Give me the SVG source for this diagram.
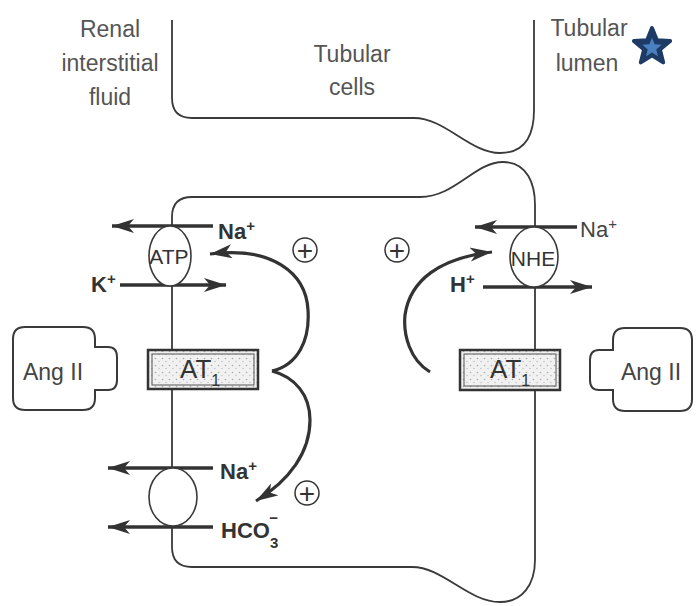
<svg xmlns="http://www.w3.org/2000/svg" width="698" height="606" viewBox="0 0 698 606">
<style>
.outline{fill:none;stroke:#3a3a3a;stroke-width:1.8}
.lbl{font-family:"Liberation Sans",Arial,sans-serif;font-size:23px;fill:#555;text-anchor:middle}
.ion{font-family:"Liberation Sans",Arial,sans-serif;font-size:22px;fill:#333;font-weight:bold}
.ionr{font-family:"Liberation Sans",Arial,sans-serif;font-size:22px;fill:#444}
.arr{fill:none;stroke:#333;stroke-width:3.5;marker-end:url(#ah)}
.curve{fill:none;stroke:#333;stroke-width:3.2}
.pump{fill:#fff;stroke:#3a3a3a;stroke-width:1.6}
.ptxt{font-family:"Liberation Sans",Arial,sans-serif;font-size:21px;fill:#333;text-anchor:middle}
.plus{fill:#fff;stroke:#333;stroke-width:1.5}
.ptext{font-family:"Liberation Sans",Arial,sans-serif;font-size:28px;fill:#333;text-anchor:middle}
.rec{fill:url(#stip);stroke:#333;stroke-width:2.5}
.reci{fill:none;stroke:#555;stroke-width:1}
.attxt{font-family:"Liberation Sans",Arial,sans-serif;font-size:26px;fill:#333}
.ang{fill:#fff;stroke:#3a3a3a;stroke-width:2}
.angt{font-family:"Liberation Sans",Arial,sans-serif;font-size:23px;fill:#444;text-anchor:middle}
</style>
<defs>
<marker id="ah" markerUnits="userSpaceOnUse" markerWidth="24" markerHeight="16" refX="22" refY="7" orient="auto">
<path d="M0,0 L22,7 L0,14 L6,7 Z" fill="#333"/>
</marker>
<pattern id="stip" width="7" height="7" patternUnits="userSpaceOnUse">
<rect width="7" height="7" fill="#f1f1f1"/>
<circle cx="1.5" cy="1.5" r="0.8" fill="#aaa"/>
<circle cx="5" cy="4.5" r="0.7" fill="#bbb"/>
</pattern>
<polygon id="star" points="0,-17 4.4,-6.1 16.2,-5.3 7.1,2.3 10,13.8 0,7.5 -10,13.8 -7.1,2.3 -16.2,-5.3 -4.4,-6.1"/>
</defs>
<rect width="698" height="606" fill="#fff"/>

<g id="labels">
<text class="lbl" x="110" y="37">Renal</text>
<text class="lbl" x="110" y="71">interstitial</text>
<text class="lbl" x="110" y="105">fluid</text>
<text class="lbl" x="352" y="62">Tubular</text>
<text class="lbl" x="352" y="95">cells</text>
<text class="lbl" x="589" y="36">Tubular</text>
<text class="lbl" x="587" y="71">lumen</text>
</g>

<g id="star-icon">
<use href="#star" transform="translate(652,47) scale(1.12)" fill="#1e3b66" stroke="#1e3b66" stroke-width="3.5" stroke-linejoin="round"/>
<use href="#star" transform="translate(652,48) scale(0.6)" fill="#4a7fc0"/>
</g>

<g id="cells">
<path class="outline" d="M172,20 L172,98 Q172,118 192,118 L414,118 C445,118 470,153 500,153 C527,153 534,132 534,110 L534,20"/>
<path class="outline" d="M192,197 L420,197 C455,197 475,162 503,162 C528,162 535,185 535,205 L535,560 C535,585 522,602 500,602 C468,602 443,567 412,567 L192,567 Q172,567 172,547 L172,217 Q172,197 192,197 Z"/>
</g>

<g id="connectors">
<line class="arr" x1="213" y1="226" x2="112" y2="226"/>
<line class="arr" x1="120" y1="285" x2="226" y2="285"/>
<line class="arr" x1="213" y1="468" x2="108" y2="468"/>
<line class="arr" x1="213" y1="527" x2="108" y2="527"/>
<line class="arr" x1="577" y1="227" x2="475" y2="227"/>
<line class="arr" x1="483" y1="287" x2="592" y2="287"/>
<path class="curve" marker-end="url(#ah)" d="M272,371 C298,365 310,340 308,310 C306,273 272,246 210,254"/>
<path class="curve" marker-end="url(#ah)" d="M272,371 C295,377 310,395 310,420 C310,452 290,480 256,501"/>
<path class="curve" marker-end="url(#ah)" d="M430,372 C410,360 403,335 405,315 C410,280 440,258 492,252"/>
</g>

<g id="atp-pump">
<ellipse class="pump" cx="170" cy="256" rx="21" ry="30"/>
<text class="ptxt" x="169" y="264">ATP</text>
</g>
<g id="nhe">
<ellipse class="pump" cx="534" cy="257" rx="24" ry="30"/>
<text class="ptxt" x="533" y="266">NHE</text>
</g>
<g id="nbc">
<ellipse class="pump" cx="173" cy="497" rx="24" ry="29"/>
</g>

<g id="ion-labels">
<text class="ion" x="218" y="239">Na<tspan font-size="15" dy="-8">+</tspan></text>
<text class="ion" x="91" y="292">K<tspan font-size="15" dy="-8">+</tspan></text>
<text class="ion" x="220" y="479">Na<tspan font-size="15" dy="-8">+</tspan></text>
<text class="ion" x="221" y="538">HCO<tspan font-size="15" dy="10">3</tspan><tspan font-size="15" dx="-9" dy="-25">−</tspan></text>
<text class="ionr" x="580" y="237">Na<tspan font-size="15" dy="-8">+</tspan></text>
<text class="ion" x="450" y="292">H<tspan font-size="15" dy="-8">+</tspan></text>
</g>

<g id="plus-signs">
<circle class="plus" cx="305" cy="250" r="12"/>
<text class="ptext" x="305" y="260">+</text>
<circle class="plus" cx="397" cy="250" r="12"/>
<text class="ptext" x="397" y="260">+</text>
<circle class="plus" cx="307" cy="493" r="12"/>
<text class="ptext" x="307" y="503">+</text>
</g>

<g id="at1-left">
<rect class="rec" x="148" y="350" width="110" height="39"/>
<rect class="reci" x="152" y="354" width="102" height="31"/>
<text class="attxt" x="180" y="378">AT<tspan font-size="16" dy="8">1</tspan></text>
</g>
<g id="at1-right">
<rect class="rec" x="460" y="350" width="100" height="40"/>
<rect class="reci" x="464" y="354" width="92" height="32"/>
<text class="attxt" x="490" y="378">AT<tspan font-size="16" dy="8">1</tspan></text>
</g>

<g id="angii-left">
<path class="ang" d="M25,327 L83,327 Q95,327 95,339 L95,347 L108,347 Q117,347 117,357 L117,380 Q117,390 108,390 L95,390 L95,398 Q95,410 83,410 L25,410 Q13,410 13,398 L13,339 Q13,327 25,327 Z"/>
<text class="angt" x="53" y="380">Ang II</text>
</g>
<g id="angii-right">
<path class="ang" d="M625,328 L680,328 Q692,328 692,340 L692,399 Q692,411 680,411 L625,411 Q613,411 613,399 L613,390 L599,390 Q590,390 590,380 L590,360 Q590,350 599,350 L613,350 L613,340 Q613,328 625,328 Z"/>
<text class="angt" x="651" y="380">Ang II</text>
</g>
</svg>
